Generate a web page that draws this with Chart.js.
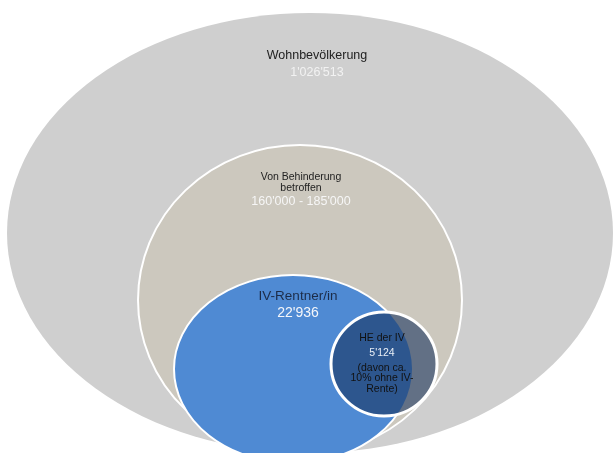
<!DOCTYPE html>
<html>
<head>
<meta charset="utf-8">
<script src="https://cdn.jsdelivr.net/npm/chart.js@4.4.1/dist/chart.umd.min.js"></script>
<style>
  html, body { margin: 0; padding: 0; background: #fff; }
  #wrap { width: 615px; height: 453px; }
</style>
</head>
<body>
<div id="wrap"><canvas id="venn"></canvas></div>
<script>
// groups, outermost first
const groups = ['Wohnbevölkerung', 'Von Behinderung\nbetroffen', 'IV-Rentner/in', 'HE der IV'];
const counts = ["1'026'513", "160'000 - 185'000", "22'936", "5'124"];
const notes = ['', '', '', '(davon ca.\n10% ohne IV-\nRente)'];

// ellipse layout in axis units (x 0..615, y 0..453 top down)
const centerX = [310, 300, 293, 384];
const centerY = [233, 300, 369, 364];
const radiusX = [303, 162, 119, 53];
const radiusY = [220, 155, 94, 52];
const labelX = [317, 301, 298, 382];
const labelY = [56, 177, 296, 338];

const fills = ['#cfcfcf', '#ccc8be', '#4f8ad3', 'rgba(20,48,92,0.58)'];
const borders = [0, 2, 2, 3];
const nameFont = ['12.5px', '10.5px', '13.5px', '10.5px'];
const nameColor = ['#222', '#222', '#1c2c48', '#111'];
const countFont = ['12.5px', '12.5px', '14px', '10.5px'];
const countColor = ['#f2f2f2', '#f6f6f6', '#f4f6fa', '#e8eef6'];
const nameStep = 11;
const countGap = [17, 14, 17, 15];
const noteGap = 15, noteStep = 10.5;
const family = '"Liberation Sans", Arial, sans-serif';

const vennPlugin = {
  id: 'venn',
  beforeDatasetsDraw(chart) {
    const ctx = chart.ctx;
    const xs = chart.scales.x, ys = chart.scales.y;
    const pts = chart.data.datasets[0].data;

    const shape = (p) => {
      const cx = xs.getPixelForValue(p.x), cy = ys.getPixelForValue(p.y);
      const rx = Math.abs(xs.getPixelForValue(p.x + p.rx) - cx);
      const ry = Math.abs(ys.getPixelForValue(p.y + p.ry) - cy);
      ctx.beginPath();
      ctx.ellipse(cx, cy, rx, ry, 0, 0, Math.PI * 2);
    };

    ctx.save();
    // first three groups, opaque
    for (let i = 0; i < 3; i++) {
      shape(pts[i]);
      ctx.fillStyle = fills[i];
      ctx.fill();
      if (borders[i]) {
        ctx.lineWidth = borders[i];
        ctx.strokeStyle = '#fff';
        ctx.stroke();
      }
    }
    // repaint under the small circle without the white rims
    ctx.save();
    shape(pts[3]);
    ctx.clip();
    for (let i = 1; i < 3; i++) {
      shape(pts[i]);
      ctx.fillStyle = fills[i];
      ctx.fill();
    }
    ctx.restore();
    // translucent small circle
    shape(pts[3]);
    ctx.fillStyle = fills[3];
    ctx.fill();
    ctx.lineWidth = borders[3];
    ctx.strokeStyle = '#fff';
    ctx.stroke();

    // labels
    ctx.textAlign = 'center';
    ctx.textBaseline = 'middle';
    pts.forEach((p, i) => {
      const lx = xs.getPixelForValue(labelX[i]);
      let yv = labelY[i];
      const nameLines = groups[i].split('\n');
      ctx.font = nameFont[i] + ' ' + family;
      ctx.fillStyle = nameColor[i];
      nameLines.forEach((t, k) => {
        ctx.fillText(t, lx, ys.getPixelForValue(yv));
        if (k < nameLines.length - 1) yv += nameStep;
      });
      yv += countGap[i];
      ctx.font = countFont[i] + ' ' + family;
      ctx.fillStyle = countColor[i];
      ctx.fillText(counts[i], lx, ys.getPixelForValue(yv));
      if (notes[i]) {
        yv += noteGap;
        ctx.font = nameFont[i] + ' ' + family;
        ctx.fillStyle = nameColor[i];
        notes[i].split('\n').forEach((t) => {
          ctx.fillText(t, lx, ys.getPixelForValue(yv));
          yv += noteStep;
        });
      }
    });
    ctx.restore();
  }
};

new Chart(document.getElementById('venn'), {
  type: 'scatter',
  data: {
    labels: groups,
    datasets: [{
      label: 'Gruppen',
      data: centerX.map((cx, i) => ({ x: cx, y: centerY[i], rx: radiusX[i], ry: radiusY[i] })),
      pointRadius: 0,
      pointHoverRadius: 0
    }]
  },
  options: {
    responsive: true,
    maintainAspectRatio: false,
    animation: false,
    layout: { padding: 0 },
    plugins: { legend: { display: false }, tooltip: { enabled: false } },
    scales: {
      x: { type: 'linear', min: 0, max: 615, display: false },
      y: { type: 'linear', min: 0, max: 453, reverse: true, display: false }
    }
  },
  plugins: [vennPlugin]
});
</script>
</body>
</html>
